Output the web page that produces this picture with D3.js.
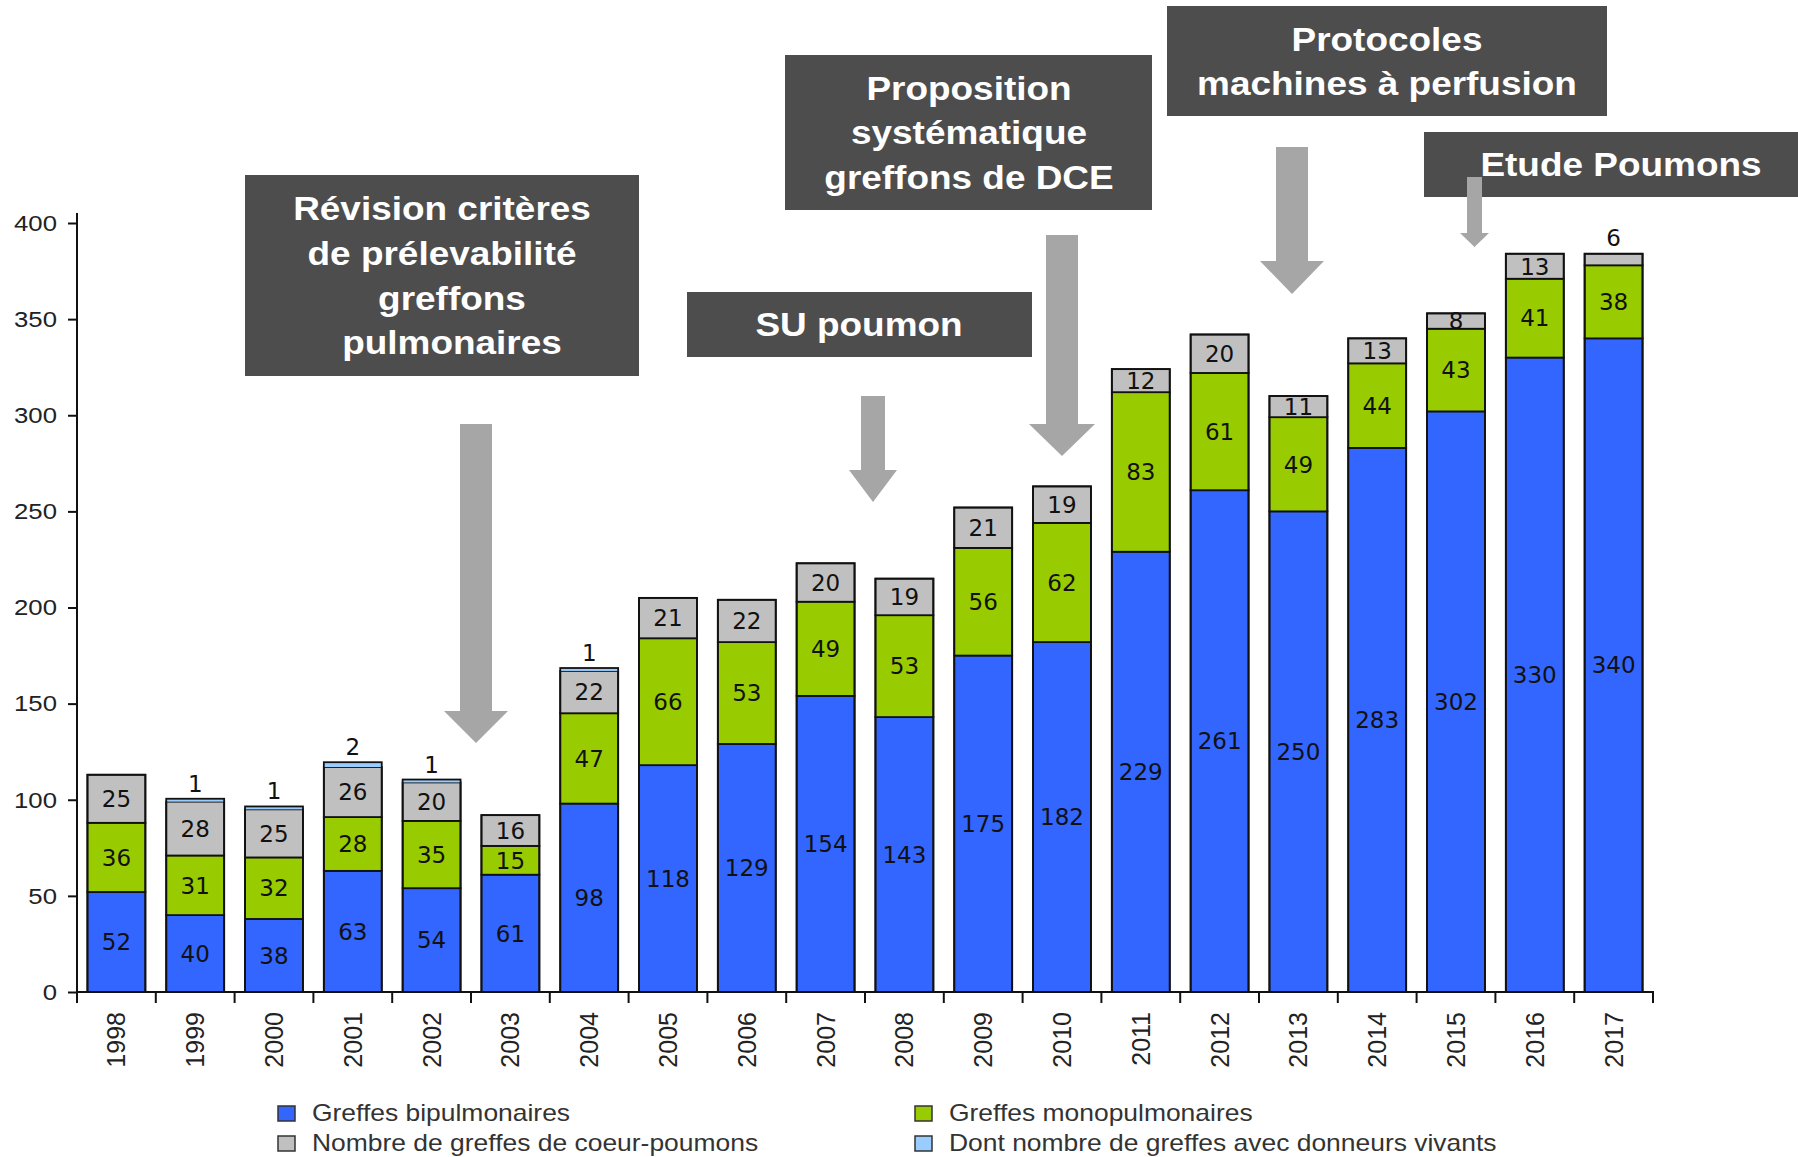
<!DOCTYPE html>
<html>
<head>
<meta charset="utf-8">
<script src="https://cdn.jsdelivr.net/npm/d3@7"></script>
<style>
  html, body { margin: 0; padding: 0; background: #ffffff; }
  svg { display: block; }
</style>
</head>
<body>
<svg id="chart" width="1798" height="1157"></svg>
<script>
// ---------------- DATA ----------------
const years = ["1998","1999","2000","2001","2002","2003","2004","2005","2006","2007",
               "2008","2009","2010","2011","2012","2013","2014","2015","2016","2017"];
const bipulmonaires   = [52,40,38,63,54,61,98,118,129,154,143,175,182,229,261,250,283,302,330,340];
const monopulmonaires = [36,31,32,28,35,15,47,66,53,49,53,56,62,83,61,49,44,43,41,38];
const coeurPoumons    = [25,28,25,26,20,16,22,21,22,20,19,21,19,12,20,11,13,8,13,6];
const donneursVivants = [0,1,1,2,1,0,1,0,0,0,0,0,0,0,0,0,0,0,0,0];
const yTickValues = [0,50,100,150,200,250,300,350,400];
const seriesKeys  = ["bip","mono","cp","viv"];
const seriesNames = ["Greffes bipulmonaires","Greffes monopulmonaires",
                     "Nombre de greffes de coeur-poumons","Dont nombre de greffes avec donneurs vivants"];
const annotationTexts = [
  ["Révision critères","de prélevabilité","greffons","pulmonaires"],
  ["SU poumon"],
  ["Proposition","systématique","greffons de DCE"],
  ["Protocoles","machines à perfusion"],
  ["Etude Poumons"]
];

// ---------------- LAYOUT / STYLE ----------------
const colors = { bip: "#3366ff", mono: "#99cc00", cp: "#c0c0c0", viv: "#99ccff" };
const SX = 1.12; // horizontal stretch of the original picture's text
const plot = { left: 77, right: 1653, top: 223, bottom: 992 };

const svg = d3.select("#chart");

const table = years.map((y, i) => ({
  year: y, bip: bipulmonaires[i], mono: monopulmonaires[i], cp: coeurPoumons[i], viv: donneursVivants[i]
}));
const totalOf = d => d.bip + d.mono + d.cp + d.viv;

const x = d3.scaleBand().domain(years).range([plot.left, plot.right]).paddingInner(0).paddingOuter(0);
const y = d3.scaleLinear().domain([0, 400]).range([plot.bottom, plot.top]);
const barFrac = 0.735;
const barW = x.bandwidth() * barFrac;
const barOff = (x.bandwidth() - barW) / 2;

const stacked = d3.stack().keys(seriesKeys)(table);

// ---------------- BARS ----------------
const gBars = svg.append("g");
stacked.forEach(layer => {
  const isViv = layer.key === "viv";
  gBars.append("g")
    .selectAll("rect")
    .data(layer.filter(d => d[1] - d[0] > 0))
    .join("rect")
    .attr("x", d => x(d.data.year) + barOff)
    .attr("width", barW)
    .attr("y", d => y(d[1]) - (isViv ? 0.8 : 0))
    .attr("height", d => y(d[0]) - y(d[1]) + (isViv ? 0.8 : 0))
    .attr("fill", colors[layer.key])
    .attr("stroke", isViv ? "none" : "#111")
    .attr("stroke-width", 1.8);
});
// outline of each whole bar
gBars.append("g").selectAll("rect").data(table).join("rect")
  .attr("x", d => x(d.year) + barOff)
  .attr("width", barW)
  .attr("y", d => y(totalOf(d)) - (d.viv > 0 ? 1 : 0))
  .attr("height", d => y(0) - y(totalOf(d)) + (d.viv > 0 ? 1 : 0))
  .attr("fill", "none")
  .attr("stroke", "#111")
  .attr("stroke-width", 1.8);

// ---------------- BAR LABELS ----------------
const gLab = svg.append("g")
  .attr("font-family", "'DejaVu Sans', Verdana, sans-serif")
  .attr("font-size", 23)
  .attr("fill", "#111")
  .attr("text-anchor", "middle");

stacked.forEach(layer => {
  layer.forEach(d => {
    const v = d[1] - d[0];
    if (v <= 0) return;
    const cx = x(d.data.year) + x.bandwidth() / 2;
    const h = y(d[0]) - y(d[1]);
    let ty, dy;
    if (layer.key === "viv" || h < 14) {
      ty = y(totalOf(d.data)) - 8; dy = "0em";
    } else {
      ty = (y(d[0]) + y(d[1])) / 2; dy = "0.36em";
    }
    gLab.append("text").attr("x", cx).attr("y", ty).attr("dy", dy).text(v);
  });
});

// ---------------- AXES ----------------
const axisColor = "#111";
const gy = svg.append("g").attr("transform", `translate(${plot.left},0)`)
  .call(d3.axisLeft(y).tickValues(yTickValues).tickSize(9).tickPadding(11));
gy.select(".domain").remove();
gy.selectAll(".tick line").attr("stroke", axisColor).attr("stroke-width", 2);
gy.selectAll(".tick text")
  .attr("font-family", "'Liberation Sans', Arial, sans-serif")
  .attr("font-size", 23)
  .attr("fill", "#222")
  .each(function() {
    const t = d3.select(this);
    const xx = +t.attr("x");
    t.attr("x", null).attr("transform", `translate(${xx},0) scale(${SX},1)`);
  });
svg.append("line")
  .attr("x1", plot.left).attr("x2", plot.left)
  .attr("y1", y(0) + 1).attr("y2", y(400) - 10)
  .attr("stroke", axisColor).attr("stroke-width", 2);

svg.append("line")
  .attr("x1", plot.left - 1).attr("x2", plot.right + 1)
  .attr("y1", y(0)).attr("y2", y(0))
  .attr("stroke", axisColor).attr("stroke-width", 2);
const boundaries = years.map(yr => x(yr)).concat([x(years[years.length - 1]) + x.bandwidth()]);
svg.append("g").selectAll("line").data(boundaries).join("line")
  .attr("x1", d => d).attr("x2", d => d)
  .attr("y1", y(0)).attr("y2", y(0) + 11)
  .attr("stroke", axisColor).attr("stroke-width", 2);
svg.append("g").selectAll("text").data(years).join("text")
  .attr("transform", d => `translate(${x(d) + x.bandwidth() / 2},${y(0) + 20}) rotate(-90)`)
  .attr("text-anchor", "end")
  .attr("dy", "0.36em")
  .attr("font-family", "'Liberation Sans', Arial, sans-serif")
  .attr("font-size", 25)
  .attr("fill", "#222")
  .text(d => d);

// ---------------- LEGEND ----------------
const legendPos = [
  { col: 0, row: 0 }, { col: 1, row: 0 }, { col: 0, row: 1 }, { col: 1, row: 1 }
];
const legendColX = [278, 915];
const legendRowY = [1113, 1143];
const gLeg = svg.append("g");
seriesKeys.forEach((k, i) => {
  const p = legendPos[i];
  gLeg.append("rect")
    .attr("x", legendColX[p.col]).attr("y", legendRowY[p.row] - 7)
    .attr("width", 17).attr("height", 15)
    .attr("fill", colors[k]).attr("stroke", "#333").attr("stroke-width", 1.5);
  gLeg.append("text")
    .attr("transform", `translate(${legendColX[p.col] + 34},${legendRowY[p.row]}) scale(1.15,1)`)
    .attr("dy", "0.36em")
    .attr("font-family", "'Liberation Sans', Arial, sans-serif")
    .attr("font-size", 23)
    .attr("fill", "#333")
    .text(seriesNames[i]);
});

// ---------------- ANNOTATIONS ----------------
const boxes = [
  { x0: 245,  x1: 639,  y0: 175, y1: 376, cx: 442,  lineDx: [0, 0, 10, 10] },
  { x0: 687,  x1: 1032, y0: 292, y1: 357, cx: 859 },
  { x0: 785,  x1: 1152, y0: 55,  y1: 210, cx: 969 },
  { x0: 1167, x1: 1607, y0: 6,   y1: 116, cx: 1387 },
  { x0: 1424, x1: 1800, y0: 132, y1: 197, cx: 1621 }
];
const arrows = [
  { sx0: 460,  sx1: 492,  top: 424, hb: 711, tip: 743, hx0: 444,  hx1: 508 },
  { sx0: 861,  sx1: 885,  top: 396, hb: 470, tip: 502, hx0: 849,  hx1: 897 },
  { sx0: 1046, sx1: 1078, top: 235, hb: 424, tip: 456, hx0: 1029, hx1: 1095 },
  { sx0: 1276, sx1: 1308, top: 147, hb: 261, tip: 294, hx0: 1260, hx1: 1324 },
  { sx0: 1467, sx1: 1482, top: 177, hb: 233, tip: 247, hx0: 1460, hx1: 1489 }
];
const lineH = 44.7;
const gAnn = svg.append("g");
boxes.forEach((b, i) => {
  gAnn.append("rect")
    .attr("x", b.x0).attr("y", b.y0)
    .attr("width", b.x1 - b.x0).attr("height", b.y1 - b.y0)
    .attr("fill", "#4d4d4d");
  const lines = annotationTexts[i];
  const cy = (b.y0 + b.y1) / 2;
  lines.forEach((ln, j) => {
    const ly = cy + (j - (lines.length - 1) / 2) * lineH;
    const dx = b.lineDx ? b.lineDx[j] : 0;
    gAnn.append("text")
      .attr("transform", `translate(${b.cx + dx},${ly}) scale(${SX},1)`)
      .attr("dy", "0.36em")
      .attr("text-anchor", "middle")
      .attr("font-family", "'Liberation Sans', Arial, sans-serif")
      .attr("font-weight", "bold")
      .attr("font-size", 33)
      .attr("fill", "#ffffff")
      .text(ln);
  });
});
arrows.forEach(a => {
  const mid = (a.hx0 + a.hx1) / 2;
  const pts = [[a.sx0, a.top], [a.sx1, a.top], [a.sx1, a.hb], [a.hx1, a.hb],
               [mid, a.tip], [a.hx0, a.hb], [a.sx0, a.hb]];
  gAnn.append("polygon")
    .attr("points", pts.map(p => p.join(",")).join(" "))
    .attr("fill", "#a6a6a6");
});
</script>
</body>
</html>
